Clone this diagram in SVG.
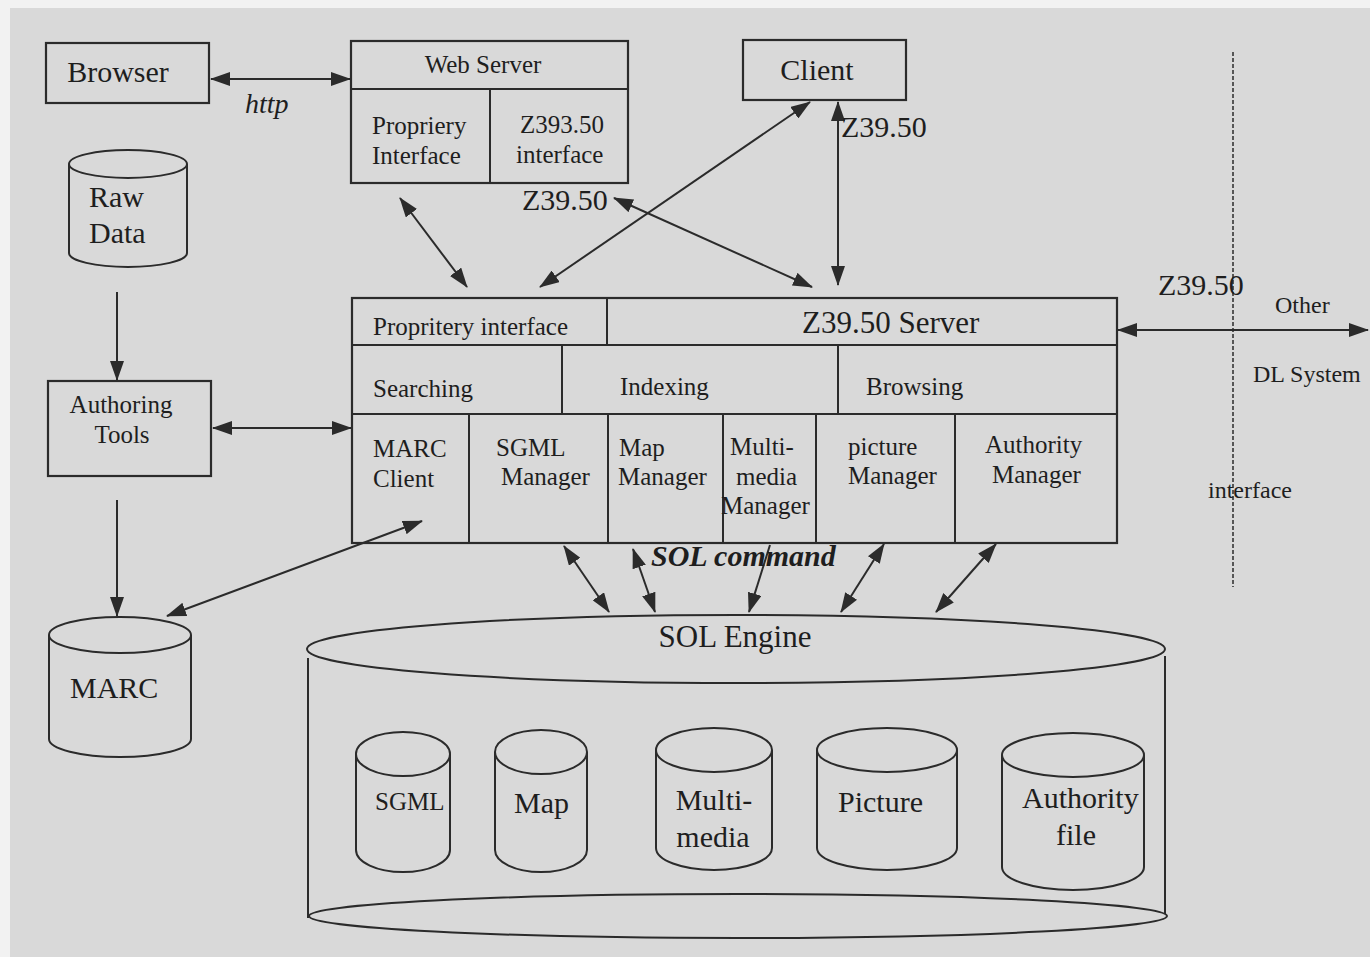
<svg xmlns="http://www.w3.org/2000/svg" width="1370" height="957" viewBox="0 0 1370 957">
  <style>
    .ln { fill: none; stroke: #2b2b2b; stroke-width: 2; }
    .bx { fill: none; stroke: #2b2b2b; stroke-width: 2.2; }
    .ar { fill: none; stroke: #2b2b2b; stroke-width: 2; marker-end: url(#head); }
    .ar2 { fill: none; stroke: #2b2b2b; stroke-width: 2; marker-start: url(#head); marker-end: url(#head); }
    text { font-family: "Liberation Serif", "Times New Roman", serif; fill: #1e1e1e; }
    .s31 { font-size: 31px; }
    .s30 { font-size: 30px; }
    .s28 { font-size: 28px; }
    .s25 { font-size: 25px; }
    .s24 { font-size: 24px; }
    .it { font-style: italic; }
    .bi { font-style: italic; font-weight: bold; }
    .c { text-anchor: middle; }
  </style>
  <defs>
    <marker id="head" markerUnits="userSpaceOnUse" markerWidth="20" markerHeight="14" refX="19" refY="7" orient="auto-start-reverse">
      <path d="M0,0 L20,7 L0,14 z" fill="#2b2b2b"/>
    </marker>
  </defs>

  <!-- page -->
  <rect x="0" y="0" width="1370" height="957" fill="#f2f2f2"/>
  <rect x="10" y="8" width="1360" height="949" fill="#d9d9d9"/>

  <!-- connectors -->
  <g id="connectors">
    <line class="ar2" x1="211" y1="79" x2="350" y2="79"/>
    <line class="ar2" x1="400" y1="198" x2="467" y2="287"/>
    <line class="ar2" x1="810" y1="102" x2="540" y2="287"/>
    <line class="ar2" x1="614" y1="198" x2="812" y2="287"/>
    <line class="ar2" x1="838" y1="102" x2="838" y2="285"/>
    <line class="ar2" x1="1118" y1="330" x2="1368" y2="330"/>
    <line class="ar" x1="117" y1="292" x2="117" y2="380"/>
    <line class="ar2" x1="213" y1="428" x2="351" y2="428"/>
    <line class="ar" x1="117" y1="500" x2="117" y2="616"/>
    <line class="ar2" x1="422" y1="521" x2="167" y2="616"/>
    <line class="ar2" x1="564" y1="546" x2="609" y2="612"/>
    <line class="ar2" x1="633" y1="549" x2="655" y2="612"/>
    <line class="ar" x1="770" y1="545" x2="749" y2="612"/>
    <line class="ar2" x1="884" y1="544" x2="841" y2="612"/>
    <line class="ar2" x1="996" y1="544" x2="936" y2="612"/>
    <line x1="1233" y1="52" x2="1233" y2="587" stroke="#2b2b2b" stroke-width="1.5" stroke-dasharray="4 2"/>
  </g>

  <!-- connector labels -->
  <g id="labels">
    <text class="s28 it" x="245" y="113">http</text>
    <text class="s30" x="522" y="210">Z39.50</text>
    <text class="s30" x="841" y="137">Z39.50</text>
    <text class="s30" x="1158" y="295">Z39.50</text>
    <text class="s24" x="1275" y="313">Other</text>
    <text class="s24" x="1253" y="382">DL System</text>
    <text class="s24" x="1208" y="498">interface</text>
    <text class="s30 bi" x="651" y="566">SOL command</text>
  </g>

  <g id="browser">
    <rect class="bx" x="46" y="43" width="163" height="60"/>
    <text class="s30 c" x="118" y="82">Browser</text>
  </g>

  <g id="web-server">
    <rect class="bx" x="351" y="41" width="277" height="142"/>
    <line class="ln" x1="351" y1="89" x2="628" y2="89"/>
    <line class="ln" x1="490" y1="89" x2="490" y2="183"/>
    <text class="s25 c" x="483" y="73">Web Server</text>
    <text class="s25" x="372" y="134">Propriery</text>
    <text class="s25" x="372" y="164">Interface</text>
    <text class="s25" x="520" y="133">Z393.50</text>
    <text class="s25" x="516" y="163">interface</text>
  </g>

  <g id="client">
    <rect class="bx" x="743" y="40" width="163" height="60"/>
    <text class="s30 c" x="817" y="80">Client</text>
  </g>

  <g id="raw-data">
    <path class="ln" d="M69,164 L69,253 A59,14 0 0 0 187,253 L187,164"/>
    <ellipse class="ln" cx="128" cy="164" rx="59" ry="14"/>
    <text class="s30" x="89" y="207">Raw</text>
    <text class="s30" x="89" y="243">Data</text>
  </g>

  <g id="authoring-tools">
    <rect class="bx" x="48" y="381" width="163" height="95"/>
    <text class="s25 c" x="121" y="413">Authoring</text>
    <text class="s25 c" x="122" y="443">Tools</text>
  </g>

  <g id="marc">
    <path class="ln" d="M49,635 L49,739 A71,18 0 0 0 191,739 L191,635"/>
    <ellipse class="ln" cx="120" cy="635" rx="71" ry="18"/>
    <text class="s30" x="70" y="698">MARC</text>
  </g>

  <g id="z3950-server">
    <rect class="bx" x="352" y="298" width="765" height="245"/>
    <line class="ln" x1="352" y1="345" x2="1117" y2="345"/>
    <line class="ln" x1="352" y1="414" x2="1117" y2="414"/>
    <line class="ln" x1="607" y1="298" x2="607" y2="345"/>
    <line class="ln" x1="562" y1="345" x2="562" y2="414"/>
    <line class="ln" x1="838" y1="345" x2="838" y2="414"/>
    <line class="ln" x1="469" y1="414" x2="469" y2="543"/>
    <line class="ln" x1="608" y1="414" x2="608" y2="543"/>
    <line class="ln" x1="723" y1="414" x2="723" y2="543"/>
    <line class="ln" x1="816" y1="414" x2="816" y2="543"/>
    <line class="ln" x1="955" y1="414" x2="955" y2="543"/>
    <text class="s25" x="373" y="335">Propritery interface</text>
    <text class="s31" x="802" y="333">Z39.50 Server</text>
    <text class="s25" x="373" y="397">Searching</text>
    <text class="s25" x="620" y="395">Indexing</text>
    <text class="s25" x="866" y="395">Browsing</text>
    <text class="s25" x="373" y="457">MARC</text>
    <text class="s25" x="373" y="487">Client</text>
    <text class="s25" x="496" y="456">SGML</text>
    <text class="s25" x="501" y="485">Manager</text>
    <text class="s25" x="619" y="456">Map</text>
    <text class="s25" x="618" y="485">Manager</text>
    <text class="s25" x="730" y="455">Multi-</text>
    <text class="s25" x="736" y="485">media</text>
    <text class="s25" x="721" y="514">Manager</text>
    <text class="s25" x="848" y="455">picture</text>
    <text class="s25" x="848" y="484">Manager</text>
    <text class="s25" x="985" y="453">Authority</text>
    <text class="s25" x="992" y="483">Manager</text>
  </g>

  <g id="sol-engine">
    <ellipse class="ln" cx="736" cy="649" rx="429" ry="34"/>
    <line class="ln" x1="308" y1="658" x2="308" y2="918"/>
    <line class="ln" x1="1165" y1="656" x2="1165" y2="914"/>
    <ellipse class="ln" cx="738" cy="916" rx="429" ry="22"/>
    <text class="s31 c" x="735" y="647">SOL Engine</text>
  </g>

  <g id="db-sgml">
    <path class="ln" d="M356,754 L356,850 A47,22 0 0 0 450,850 L450,754"/>
    <ellipse class="ln" cx="403" cy="754" rx="47" ry="22"/>
    <text class="s25" x="375" y="810">SGML</text>
  </g>
  <g id="db-map">
    <path class="ln" d="M495,752 L495,850 A46,22 0 0 0 587,850 L587,752"/>
    <ellipse class="ln" cx="541" cy="752" rx="46" ry="22"/>
    <text class="s30" x="514" y="813">Map</text>
  </g>
  <g id="db-multimedia">
    <path class="ln" d="M656,750 L656,848 A58,22 0 0 0 772,848 L772,750"/>
    <ellipse class="ln" cx="714" cy="750" rx="58" ry="22"/>
    <text class="s30 c" x="714" y="810">Multi-</text>
    <text class="s30 c" x="713" y="847">media</text>
  </g>
  <g id="db-picture">
    <path class="ln" d="M817,750 L817,848 A70,22 0 0 0 957,848 L957,750"/>
    <ellipse class="ln" cx="887" cy="750" rx="70" ry="22"/>
    <text class="s30" x="838" y="812">Picture</text>
  </g>
  <g id="db-authority">
    <path class="ln" d="M1002,755 L1002,867 A71,23 0 0 0 1144,867 L1144,755"/>
    <ellipse class="ln" cx="1073" cy="755" rx="71" ry="22"/>
    <text class="s30" x="1022" y="808">Authority</text>
    <text class="s30" x="1056" y="845">file</text>
  </g>
</svg>
